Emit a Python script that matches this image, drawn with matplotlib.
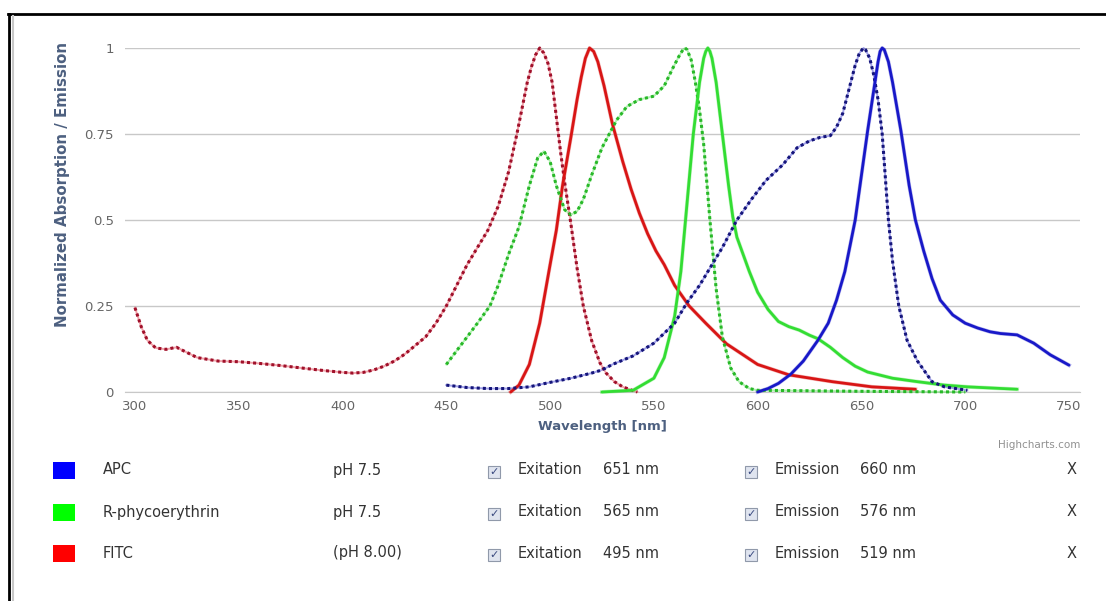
import matplotlib.pyplot as plt
from matplotlib.patches import Rectangle
from matplotlib.lines import Line2D

# --- spectra (wavelength nm, normalized value) ---
fitc_ex_nm = [300, 303, 306, 310, 315, 320, 325, 330, 340, 350, 360, 370, 380, 390, 400, 405,
              410, 415, 420, 425, 430, 435, 440, 445, 450, 455, 460, 465, 470, 475, 480, 484,
              487, 489, 491, 493, 495, 497, 499, 501, 503, 505, 507, 510, 513, 516, 520, 524,
              527, 531, 535, 539, 542]
fitc_ex = [0.245, 0.19, 0.15, 0.128, 0.124, 0.13, 0.115, 0.1, 0.09, 0.088, 0.083, 0.077, 0.07,
           0.063, 0.057, 0.055, 0.057, 0.064, 0.075, 0.09, 0.11, 0.135, 0.16, 0.2, 0.25, 0.31,
           0.37, 0.42, 0.47, 0.54, 0.64, 0.75, 0.84, 0.9, 0.945, 0.98, 1.0, 0.985, 0.955, 0.9,
           0.8, 0.7, 0.61, 0.49, 0.36, 0.25, 0.15, 0.085, 0.055, 0.03, 0.015, 0.006, 0.0]

fitc_em_nm = [481, 485, 490, 495, 500, 503, 506, 510, 513, 515, 517, 519, 521, 523, 526, 530,
              535, 539, 543, 547, 551, 555, 560, 567, 575, 585, 600, 615, 636, 655, 676]
fitc_em = [0.0, 0.02, 0.08, 0.2, 0.37, 0.47, 0.6, 0.74, 0.85, 0.915, 0.97, 1.0, 0.99, 0.96,
           0.89, 0.78, 0.67, 0.59, 0.52, 0.46, 0.41, 0.37, 0.31, 0.25, 0.2, 0.14, 0.08, 0.05,
           0.03, 0.015, 0.008]

rpe_ex_nm = [450, 455, 460, 465, 471, 475, 480, 485, 490, 494, 497, 500, 503, 507, 510, 513,
             516, 520, 525, 532, 537, 543, 550, 555, 559, 562, 564, 565, 566, 568, 570, 572,
             574, 577, 580, 583, 587, 591, 596, 600, 650, 700]
rpe_ex = [0.08, 0.12, 0.16, 0.2, 0.25, 0.31, 0.4, 0.48, 0.6, 0.68, 0.70, 0.67, 0.6, 0.53,
          0.515, 0.525, 0.56, 0.63, 0.71, 0.79, 0.83, 0.85, 0.86, 0.89, 0.94, 0.975, 0.995,
          1.0, 0.995, 0.965, 0.9, 0.82, 0.72, 0.5, 0.3, 0.16, 0.07, 0.03, 0.01, 0.005, 0.002,
          0.0]

rpe_em_nm = [525, 540, 550, 555, 560, 563, 566, 569, 572, 574, 575, 576, 577, 578, 580, 582,
             584, 586, 588, 590, 593, 596, 600, 605, 610, 615, 620, 625, 629, 635, 641, 647,
             653, 665, 677, 690, 701, 725]
rpe_em = [0.0, 0.005, 0.04, 0.1, 0.22, 0.35, 0.55, 0.75, 0.9, 0.97, 0.99, 1.0, 0.99, 0.97,
          0.9, 0.8, 0.7, 0.6, 0.51, 0.45, 0.4, 0.35, 0.29, 0.24, 0.205, 0.19, 0.18, 0.165,
          0.155, 0.13, 0.1, 0.075, 0.058, 0.04, 0.03, 0.02, 0.015, 0.008]

apc_ex_nm = [450, 460, 470, 480, 490, 500, 510, 520, 525, 530, 540, 550, 560, 566, 572, 577,
             583, 590, 597, 604, 612, 619, 625, 630, 635, 638, 641, 644, 647, 649, 651, 652,
             654, 656, 658, 660, 663, 665, 668, 672, 677, 684, 690, 701]
apc_ex = [0.02, 0.013, 0.01, 0.01, 0.015, 0.028, 0.04, 0.055, 0.064, 0.08, 0.105, 0.142, 0.2,
          0.26, 0.31, 0.36, 0.42, 0.5, 0.56, 0.615, 0.66, 0.71, 0.73, 0.74, 0.745, 0.77, 0.81,
          0.88, 0.95, 0.985, 1.0, 0.995, 0.97, 0.92, 0.85, 0.75, 0.5, 0.38, 0.25, 0.15, 0.09,
          0.03, 0.015, 0.005]

apc_em_nm = [600, 605, 610, 616, 622, 629, 634, 638, 642, 647, 650, 653, 656, 658, 659, 660,
             661, 663, 665, 667, 669, 673, 676, 680, 684, 688, 694, 700, 706, 712, 717, 725,
             733, 741, 750]
apc_em = [0.0, 0.01, 0.025, 0.052, 0.09, 0.15, 0.2, 0.267, 0.35, 0.5, 0.63, 0.76, 0.88, 0.96,
          0.99, 1.0, 0.995, 0.96, 0.9, 0.83, 0.76, 0.6, 0.5, 0.41, 0.33, 0.267, 0.224, 0.2,
          0.186, 0.175, 0.17, 0.166, 0.142, 0.108, 0.078]

# --- table rows ---
dyes = ["APC", "R-phycoerythrin", "FITC"]
dye_ph = ["pH 7.5", "pH 7.5", "(pH 8.00)"]
ex_peaks = [651, 565, 495]
em_peaks = [660, 576, 519]
swatch_colors = ["#0000ff", "#00ff00", "#ff0000"]

x_ticks = [300, 350, 400, 450, 500, 550, 600, 650, 700, 750]
y_ticks = [0, 0.25, 0.5, 0.75, 1]
y_tick_labels = ["0", "0.25", "0.5", "0.75", "1"]

fig = plt.figure(figsize=(11.06, 6.01), dpi=100)
ax = fig.add_axes([125 / 1106, 1 - 392 / 601, 955 / 1106, 344 / 601])

grid_col = "#c8c8c8"
label_col = "#4d6080"
tick_col = "#666666"


def dotted(x, y, col, dot_col):
    ax.plot(x, y, color=col, lw=1.4, alpha=0.45, clip_on=False, zorder=3)
    ax.plot(x, y, color=dot_col, lw=2.2, linestyle=(0, (1, 1)), clip_on=False, zorder=4)


def solid(x, y, col):
    ax.plot(x, y, color=col, lw=2.8, alpha=0.3, clip_on=False, zorder=3)
    ax.plot(x, y, color=col, lw=2.0, clip_on=False, zorder=4,
            solid_capstyle="round", solid_joinstyle="round")


dotted(fitc_ex_nm, fitc_ex, "#e03040", "#a0102a")
solid(fitc_em_nm, fitc_em, "#d81515")
dotted(rpe_ex_nm, rpe_ex, "#50e050", "#28b828")
solid(rpe_em_nm, rpe_em, "#33dd33")
dotted(apc_ex_nm, apc_ex, "#3030d0", "#15157a")
solid(apc_em_nm, apc_em, "#1818c8")

ax.set_xlim(295.2, 755.3)
ax.set_ylim(0, 1)
ax.set_xticks(x_ticks)
ax.set_yticks(y_ticks)
ax.set_yticklabels(y_tick_labels)
ax.tick_params(length=0, labelsize=9.5, colors=tick_col)
ax.tick_params(axis="x", pad=6)
ax.tick_params(axis="y", pad=8)
ax.grid(axis="y", color=grid_col, lw=1)
for s in ["top", "right", "left"]:
    ax.spines[s].set_visible(False)
ax.spines["bottom"].set_color(grid_col)
ax.set_axisbelow(True)

ax.set_xlabel("Wavelength [nm]", fontsize=9.5, fontweight="bold", color=label_col, labelpad=5)
fig.text(63 / 1106, 1 - 185 / 601, "Normalized Absorption / Emission", fontsize=10.8,
         fontweight="bold", color=label_col, rotation=90, ha="center", va="center")

fig.text(1080 / 1106, 1 - 445 / 601, "Highcharts.com", fontsize=7.5, color="#909090",
         ha="right", va="center")

# page frame
fig.add_artist(Line2D([8 / 1106, 1], [1 - 14 / 601] * 2, color="black", lw=2))
fig.add_artist(Line2D([9 / 1106] * 2, [0, 1 - 14 / 601], color="black", lw=2))
fig.add_artist(Line2D([12.5 / 1106] * 2, [0, 1 - 16 / 601], color="#c8c8c8", lw=1.5))


def fx(px):
    return px / 1106


def fy(py):
    return 1 - py / 601


def checkbox(px, py):
    fig.add_artist(Rectangle((fx(px - 6), fy(py + 6)), 12 / 1106, 12 / 601,
                             facecolor="#dfe4ef", edgecolor="#9099aa", lw=0.8))
    fig.text(fx(px), fy(py), "\u2713", fontsize=8, color="#3a4a80", ha="center", va="center")


row_y = [470, 512, 553]
txt = dict(fontsize=10.5, color="#333333", va="center")
for i, name in enumerate(dyes):
    y = row_y[i]
    fig.add_artist(Rectangle((fx(53), fy(y + 9)), 22 / 1106, 17 / 601,
                             facecolor=swatch_colors[i], edgecolor="none"))
    fig.text(fx(103), fy(y), name, **txt)
    fig.text(fx(333), fy(y), dye_ph[i], **txt)
    checkbox(494, y + 2)
    fig.text(fx(518), fy(y), "Exitation", **txt)
    fig.text(fx(603), fy(y), f"{ex_peaks[i]} nm", **txt)
    checkbox(751, y + 2)
    fig.text(fx(775), fy(y), "Emission", **txt)
    fig.text(fx(860), fy(y), f"{em_peaks[i]} nm", **txt)
    fig.text(fx(1072), fy(y), "X", ha="center", **txt)

fig.savefig("out.png", dpi=100)
